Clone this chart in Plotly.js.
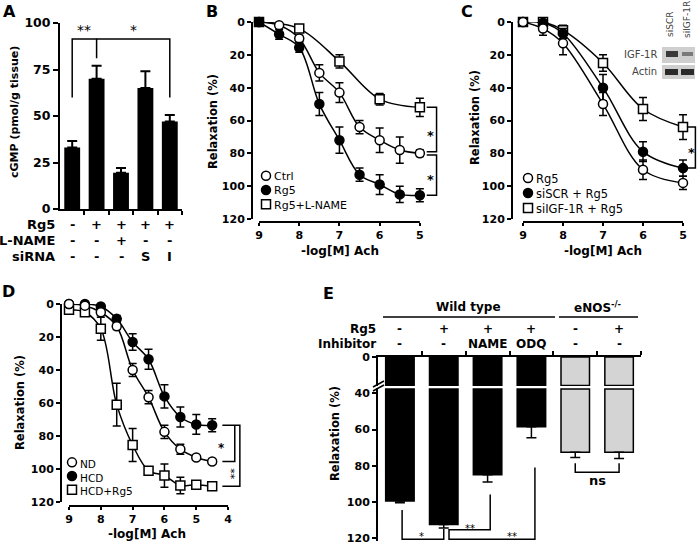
<!DOCTYPE html>
<html>
<head>
<meta charset="utf-8">
<script src="https://cdn.plot.ly/plotly-3.0.1.min.js"></script>
<style>
  html, body { margin: 0; padding: 0; background: #fff; }
  #chart { width: 700px; height: 546px; }
</style>
</head>
<body>
<div id="chart"></div>
<script>
// ---- Panel A: cGMP bars ----
const aCats = [0, 1, 2, 3, 4];
const aCgmp = [33, 70, 19.5, 65, 47];
const aErr = [3.5, 7, 2.5, 9, 3.5];
const aRg5 = ['-', '+', '+', '+', '+'];
const aLname = ['-', '-', '+', '-', '-'];
const aSirna = ['-', '-', '-', 'S', 'I'];
const aTicks = [0, 25, 50, 75, 100];

// ---- Panel B: relaxation curves ----
const doseB = [9, 8.5, 8, 7.5, 7, 6.5, 6, 5.5, 5];
const bCtrl = [0, 2, 10, 31, 43, 64, 72, 78, 80];
const bCtrlErr = [1, 1, 2, 5, 6, 4, 7.5, 8, 2];
const bRg5 = [0, 7.5, 15.5, 50, 72, 93, 99, 105, 105.5];
const bRg5Err = [1, 3, 3, 7, 8, 4, 6, 5, 4];
const doseBL = [9, 8, 7, 6, 5];
const bLname = [0, 4, 24, 47, 52];
const bLnameErr = [1, 2, 4, 3.5, 5.5];
const bNames = ['Ctrl', 'Rg5', 'Rg5+L-NAME'];

// ---- Panel C ----
const doseC = [9, 8.5, 8, 7, 6, 5];
const cRg5 = [0, 4, 13, 50, 90, 98];
const cRg5Err = [1, 4, 7, 7, 6, 4];
const cSiscr = [0, 0.5, 7, 40, 79, 89];
const cSiscrErr = [1, 2, 3, 8, 6, 5];
const cSiigf = [0, 0, 5, 25, 53, 64];
const cSiigfErr = [1, 3, 3, 5, 7, 7.5];
const cNames = ['Rg5', 'siSCR + Rg5', 'siIGF-1R + Rg5'];

// ---- Panel D ----
const doseD = [9, 8.5, 8, 7.5, 7, 6.5, 6, 5.5, 5, 4.5];
const dNd = [0, 1, 5, 13.5, 40, 56.5, 77.5, 88, 93, 95.5];
const dNdErr = [1, 1, 2, 2, 4, 4, 4, 3, 1, 1.5];
const dHcd = [0, 0, 1.5, 9, 23, 33.5, 56, 68.5, 73, 73.5];
const dHcdErr = [1, 1, 2, 2, 5, 6, 7, 6, 6, 4];
const dHcdRg5 = [3.5, 5, 15, 61, 85.5, 101, 104, 110, 109.5, 110.5];
const dHcdRg5Err = [1, 1, 7, 13, 10, 2, 7, 5, 2, 1];
const dNames = ['ND', 'HCD', 'HCD+Rg5'];

// ---- Panel E ----
const eCats = [0, 1, 2, 3, 4, 5];
const eRelax = [99.5, 112.5, 85, 58.5, 72.5, 72.5];
const eErr = [1, 2, 4, 6, 3, 3.5];
const eRg5 = ['-', '+', '+', '+', '-', '+'];
const eInhib = ['-', '-', 'NAME', 'ODQ', '-', '-'];

const relTicks = [0, 20, 40, 60, 80, 100, 120];

const FONT = 'DejaVu Sans';
const W = 700, H = 546;
const X = p => p / W;
const Y = p => 1 - p / H;

function ax(extra) {
    return Object.assign({
        showline: true, linecolor: '#000', linewidth: 2,
        ticks: 'outside', ticklen: 4, tickwidth: 2, tickcolor: '#000',
        showgrid: false, zeroline: false, fixedrange: true,
        tickfont: { family: FONT, size: 11, weight: 'bold', color: '#000' }
    }, extra);
}

function txt(text, x, y, o = {}) {
    return {
        text, x: X(x), y: Y(y), xref: 'paper', yref: 'paper', showarrow: false,
        xanchor: o.xa || 'center', yanchor: 'middle', textangle: o.angle || 0, align: o.align || 'center',
        font: { family: FONT, size: o.size || 12, weight: o.normal ? 'normal' : 'bold', color: o.color || '#000' }
    };
}

// text placed on a category / data x, pixel y
function colTxt(text, xref, x, y, size) {
    return {
        text, x, y: Y(y), xref, yref: 'paper', showarrow: false,
        xanchor: 'center', yanchor: 'middle',
        font: { family: FONT, size: size || 12, weight: 'bold', color: '#000' }
    };
}

function dataTxt(text, xref, yref, x, y, size, o = {}) {
    return {
        text, x, y, xref, yref, showarrow: false, xanchor: 'center', yanchor: 'middle',
        textangle: o.angle || 0,
        font: { family: FONT, size: size, weight: o.bold ? 'bold' : 'normal', color: '#000' }
    };
}

function curve(x, y, err, xa, ya, symbol, filled) {
    return {
        type: 'scatter', x, y, xaxis: xa, yaxis: ya, mode: 'lines+markers',
        line: { shape: 'spline', color: '#000', width: 1.5 },
        marker: { symbol, size: 9, color: filled ? '#000' : '#fff', line: { color: '#000', width: 1.5 } },
        error_y: { type: 'data', array: err, color: '#000', thickness: 1.5, width: 4 },
        cliponaxis: false, hoverinfo: 'skip'
    };
}

function bracket(xref, yref, pts) {
    const d = 'M ' + pts.map(p => p[0] + ',' + p[1]).join(' L ');
    return { type: 'path', xref, yref, path: d, line: { color: '#000', width: 1.5 } };
}

function pline(x0, y0, x1, y1, w) {
    return { type: 'line', xref: 'paper', yref: 'paper', x0: X(x0), y0: Y(y0), x1: X(x1), y1: Y(y1), line: { color: '#000', width: w || 1.5 } };
}

function key(cx, cy, symbol, filled) {
    return {
        type: symbol === 'square' ? 'rect' : 'circle', xref: 'paper', yref: 'paper',
        x0: X(cx - 4.5), x1: X(cx + 4.5), y0: Y(cy + 4.5), y1: Y(cy - 4.5),
        fillcolor: filled ? '#000' : '#fff', line: { color: '#000', width: 1.5 }
    };
}

// manual legend: one multi-line text block plus three keys aligned to its lines
function legendBlock(names, x, yMid, size, shapesOut, annOut) {
    const step = size * 1.3;
    const syms = [['circle', false], ['circle', true], ['square', false]];
    syms.forEach((s, i) => shapesOut.push(key(x - 6, yMid + (i - 1) * step, s[0], s[1])));
    annOut.push(txt(names.join('<br>'), x, yMid + 1, { xa: 'left', align: 'left', size, normal: true }));
}

const traces = [
    // A
    {
        type: 'bar', x: aCats, y: aCgmp, xaxis: 'x', yaxis: 'y', width: 0.65,
        marker: { color: '#000' },
        error_y: { type: 'data', symmetric: false, array: aErr, arrayminus: aErr.map(() => 0), color: '#000', thickness: 2, width: 5 },
        hoverinfo: 'skip'
    },
    // B
    curve(doseBL, bLname, bLnameErr, 'x2', 'y2', 'square', false),
    curve(doseB, bCtrl, bCtrlErr, 'x2', 'y2', 'circle', false),
    curve(doseB, bRg5, bRg5Err, 'x2', 'y2', 'circle', true),
    // C
    curve(doseC, cSiigf, cSiigfErr, 'x3', 'y3', 'square', false),
    curve(doseC, cSiscr, cSiscrErr, 'x3', 'y3', 'circle', true),
    curve(doseC, cRg5, cRg5Err, 'x3', 'y3', 'circle', false),
    // D
    curve(doseD, dHcdRg5, dHcdRg5Err, 'x4', 'y4', 'square', false),
    curve(doseD, dHcd, dHcdErr, 'x4', 'y4', 'circle', true),
    curve(doseD, dNd, dNdErr, 'x4', 'y4', 'circle', false),
    // E (broken axis: upper and lower segments)
    {
        type: 'bar', x: eCats, y: eRelax.map(v => Math.min(v, 35.5)), xaxis: 'x5', yaxis: 'y5', width: 0.65,
        marker: { color: eCats.map(i => i < 4 ? '#000' : '#d4d4d4'), line: { color: '#000', width: 1.5 } },
        hoverinfo: 'skip'
    },
    {
        type: 'bar', x: eCats, y: eRelax.map(v => v - 37.5), base: 37.5, xaxis: 'x5', yaxis: 'y6', width: 0.65,
        marker: { color: eCats.map(i => i < 4 ? '#000' : '#d4d4d4'), line: { color: '#000', width: 1.5 } },
        hoverinfo: 'skip'
    },
    {
        type: 'scatter', mode: 'markers', x: eCats, y: eRelax, xaxis: 'x5', yaxis: 'y6',
        marker: { size: 1, color: 'rgba(0,0,0,0)' },
        error_y: { type: 'data', symmetric: false, array: eErr, arrayminus: eErr.map(() => 0), color: '#000', thickness: 1.5, width: 5 },
        cliponaxis: false, hoverinfo: 'skip'
    }
];

const last = a => a[a.length - 1];

const shapes = [
    // A brackets
    bracket('x', 'y', [[0, 60], [0, 91.4], [1, 91.4], [1, 81]]),
    bracket('x', 'y', [[1, 91.4], [4, 91.4], [4, 60]]),
    // B x-axis line and brackets
    { type: 'line', xref: 'x2', yref: 'paper', x0: 9, x1: 5, y0: Y(222), y1: Y(222), line: { color: '#000', width: 2 } },
    bracket('x2', 'y2', [[4.83, last(bLname)], [4.585, last(bLname)], [4.585, last(bCtrl) - 1], [4.83, last(bCtrl) - 1]]),
    bracket('x2', 'y2', [[4.83, last(bCtrl) + 1], [4.585, last(bCtrl) + 1], [4.585, last(bRg5)], [4.83, last(bRg5)]]),
    // C
    { type: 'line', xref: 'x3', yref: 'paper', x0: 9, x1: 5, y0: Y(222), y1: Y(222), line: { color: '#000', width: 2 } },
    bracket('x3', 'y3', [[4.9, last(cSiigf)], [4.69, last(cSiigf)], [4.69, last(cSiscr)], [4.9, last(cSiscr)]]),
    // D
    { type: 'line', xref: 'x4', yref: 'paper', x0: 9, x1: 4, y0: Y(506), y1: Y(506), line: { color: '#000', width: 2 } },
    bracket('x4', 'y4', [[4.18, last(dHcd)], [3.63, last(dHcd)], [3.63, last(dHcdRg5)], [4.18, last(dHcdRg5)]]),
    bracket('x4', 'y4', [[3.79, last(dHcd)], [3.79, last(dNd)], [4.18, last(dNd)]]),
    // E brackets
    bracket('x5', 'y6', [[0.05, 104.5], [0.05, 120.7], [1.0, 120.7], [1.0, 115]]),
    bracket('x5', 'y6', [[1.12, 115], [1.12, 120.7], [3.08, 120.7], [3.08, 81]]),
    bracket('x5', 'y6', [[1.12, 115.5], [2.06, 115.5], [2.06, 96]]),
    bracket('x5', 'y6', [[4, 78.7], [4, 83.6], [5, 83.6], [5, 78.7]]),
    // E axis break marks
    pline(373, 387, 384, 381),
    pline(373, 391, 384, 385),
    // E header lines
    pline(383, 317, 555, 317),
    pline(559, 317, 638, 317),
    // C inset blot
    { type: 'rect', xref: 'paper', yref: 'paper', x0: X(662), x1: X(695), y0: Y(63), y1: Y(47), fillcolor: '#cfcfcf', line: { width: 0 } },
    { type: 'rect', xref: 'paper', yref: 'paper', x0: X(662), x1: X(695), y0: Y(79), y1: Y(65), fillcolor: '#cfcfcf', line: { width: 0 } },
    { type: 'rect', xref: 'paper', yref: 'paper', x0: X(666), x1: X(678), y0: Y(57), y1: Y(51), fillcolor: '#3a3a3a', line: { width: 0 } },
    { type: 'rect', xref: 'paper', yref: 'paper', x0: X(682), x1: X(693), y0: Y(56), y1: Y(52), fillcolor: '#7a7a7a', line: { width: 0 } },
    { type: 'rect', xref: 'paper', yref: 'paper', x0: X(665), x1: X(678), y0: Y(75), y1: Y(69), fillcolor: '#2a2a2a', line: { width: 0 } },
    { type: 'rect', xref: 'paper', yref: 'paper', x0: X(681), x1: X(694), y0: Y(75), y1: Y(69), fillcolor: '#2a2a2a', line: { width: 0 } }
];

const annotations = [
    // panel letters
    txt('A', 9, 11, { size: 16 }), txt('B', 212, 11, { size: 16 }), txt('C', 467, 11, { size: 16 }),
    txt('D', 8, 291, { size: 16 }), txt('E', 328, 293, { size: 16 }),
    // axis titles
    txt('cGMP (pmol/g tissue)', 15, 112, { angle: -90, size: 11 }),
    txt('Relaxation (%)', 213, 122, { angle: -90, size: 11.5 }),
    txt('Relaxation (%)', 475, 118, { angle: -90, size: 11.5 }),
    txt('Relaxation (%)', 20, 403, { angle: -90, size: 11.5 }),
    txt('Relaxation (%)', 335, 434, { angle: -90, size: 11.5 }),
    txt('-log[M] Ach', 340, 251), txt('-log[M] Ach', 603, 251), txt('-log[M] Ach', 147, 534),
    // A row labels
    txt('Rg5', 57, 224, { xa: 'right', size: 13 }),
    txt('L-NAME', 57, 240, { xa: 'right', size: 13 }),
    txt('siRNA', 57, 256, { xa: 'right', size: 13 }),
    // A significance
    dataTxt('**', 'x', 'y', 0.5, 96, 14),
    dataTxt('*', 'x', 'y', 2.5, 96, 14),
    // B stars
    dataTxt('*', 'x2', 'y2', 4.74, (last(bLname) + last(bCtrl)) / 2 + 3, 13, { bold: true }),
    dataTxt('*', 'x2', 'y2', 4.74, (last(bCtrl) + last(bRg5)) / 2 + 3, 13, { bold: true }),
    // C star, inset labels
    dataTxt('*', 'x3', 'y3', 4.79, (last(cSiigf) + last(cSiscr)) / 2 + 3, 13, { bold: true }),
    txt('IGF-1R', 659, 55, { xa: 'right', size: 10, normal: true, color: '#444' }),
    txt('Actin', 659, 72, { xa: 'right', size: 10, normal: true, color: '#444' }),
    txt('siSCR', 670, 25, { angle: -90, size: 9, normal: true, color: '#444' }),
    txt('siIGF-1R', 687, 20, { angle: -90, size: 9, normal: true, color: '#444' }),
    // D stars
    dataTxt('*', 'x4', 'y4', 4.22, 87, 12, { bold: true }),
    dataTxt('**', 'x4', 'y4', 3.95, 103, 11, { angle: 90 }),
    // E header
    txt('Wild type', 468, 307),
    txt('eNOS<sup>-/-</sup>', 598, 307),
    txt('Rg5', 378, 329, { xa: 'right' }),
    txt('Inhibitor', 378, 344, { xa: 'right' }),
    dataTxt('*', 'x5', 'y6', 0.5, 119, 10),
    dataTxt('**', 'x5', 'y6', 1.6, 114.5, 10),
    dataTxt('**', 'x5', 'y6', 2.55, 119, 10),
    dataTxt('ns', 'x5', 'y6', 4.5, 88, 13, { bold: true })
];

legendBlock(bNames, 272, 190, 11, shapes, annotations);
legendBlock(cNames, 534, 193, 11.5, shapes, annotations);
legendBlock(dNames, 78, 476, 10.5, shapes, annotations);

aCats.forEach(i => {
    annotations.push(colTxt(aRg5[i], 'x', i, 224, 13));
    annotations.push(colTxt(aLname[i], 'x', i, 240, 13));
    annotations.push(colTxt(aSirna[i], 'x', i, 256, 13));
});
eCats.forEach(i => {
    annotations.push(colTxt(eRg5[i], 'x5', i, 329, 12));
    annotations.push(colTxt(eInhib[i], 'x5', i, 344, 12));
});

const layout = {
    width: W, height: H,
    margin: { l: 0, r: 0, t: 0, b: 0 },
    paper_bgcolor: '#fff', plot_bgcolor: 'rgba(0,0,0,0)',
    showlegend: false, barmode: 'overlay',
    xaxis: ax({ domain: [X(60), X(182)], range: [-0.5, 4.5], anchor: 'y', tickvals: [0.5, 1.5, 2.5, 3.5, 4.5], showticklabels: false }),
    yaxis: ax({ domain: [Y(209), Y(23)], range: [0, 100], anchor: 'x', tickvals: aTicks, ticklen: 5,
        tickfont: { family: FONT, size: 12.5, weight: 'bold', color: '#000' } }),
    xaxis2: ax({ domain: [X(253), X(444)], range: [9.15, 4.4], anchor: 'free', position: Y(222), showline: false, ticklen: 3, tickvals: [9, 8, 7, 6, 5] }),
    yaxis2: ax({ domain: [Y(219), Y(22)], range: [120, 0], anchor: 'x2', tickvals: relTicks }),
    xaxis3: ax({ domain: [X(513), X(699)], range: [9.25, 4.6], anchor: 'free', position: Y(222), showline: false, ticklen: 3, tickvals: [9, 8, 7, 6, 5] }),
    yaxis3: ax({ domain: [Y(219), Y(22)], range: [120, 0], anchor: 'x3', tickvals: relTicks }),
    xaxis4: ax({ domain: [X(62), X(244)], range: [9.22, 3.5], anchor: 'free', position: Y(506), showline: false, ticklen: 3, tickvals: [9, 8, 7, 6, 5, 4] }),
    yaxis4: ax({ domain: [Y(502), Y(304)], range: [120, 0], anchor: 'x4', tickvals: relTicks }),
    xaxis5: ax({ domain: [X(378), X(641)], range: [-0.5, 5.5], anchor: 'y5', side: 'top', tickvals: [0.5, 1.5, 2.5, 3.5, 4.5, 5.5], showticklabels: false }),
    yaxis5: ax({ domain: [Y(386), Y(357)], range: [36, 0], anchor: 'x5', tickvals: [0] }),
    yaxis6: ax({ domain: [Y(540.7), Y(388)], range: [121.5, 37], anchor: 'x5', tickvals: [40, 60, 80, 100, 120] }),
    shapes, annotations
};

Plotly.newPlot('chart', traces, layout, { staticPlot: true });
</script>
</body>
</html>
